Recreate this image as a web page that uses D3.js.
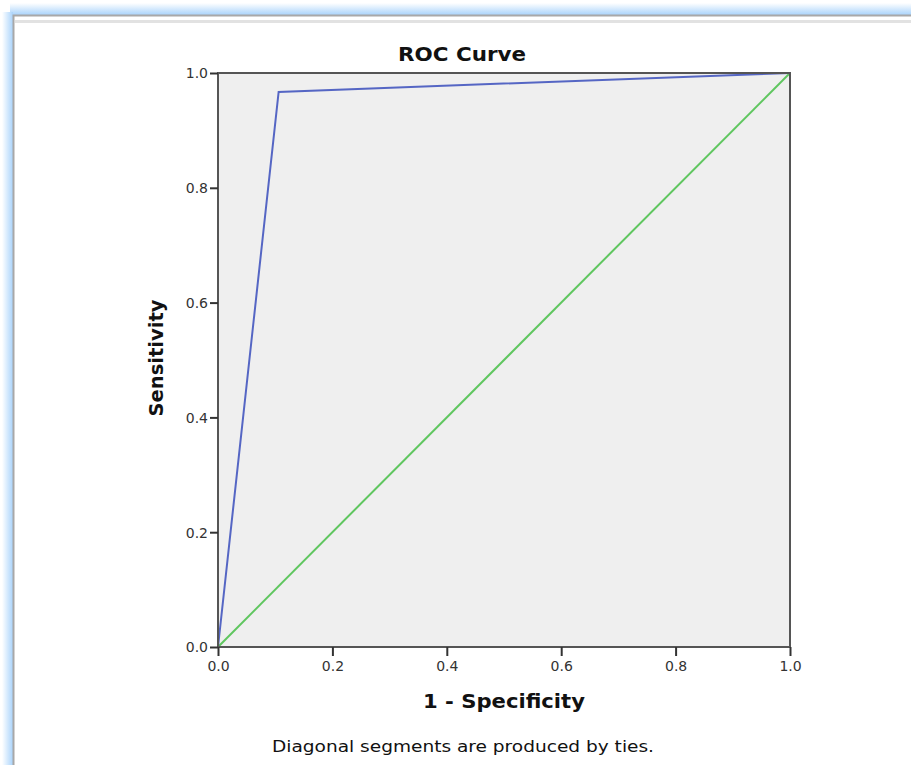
<!DOCTYPE html>
<html>
<head>
<meta charset="utf-8">
<script src="https://cdn.jsdelivr.net/npm/d3@7"></script>
<style>
  body { margin: 0; background: #fff; }
  svg { display: block; }
</style>
</head>
<body>
<div id="chart"></div>
<script>
// ROC curve points: 1 - specificity vs sensitivity
const fpr = [0, 0.106, 1];
const tpr = [0, 0.967, 1];
// reference line
const refX = [0, 1];
const refY = [0, 1];
const ticks = [0, 0.2, 0.4, 0.6, 0.8, 1.0];

const width = 911, height = 765;
const plot = { left: 218, top: 73, right: 790, bottom: 647 };
const font = "'DejaVu Sans', 'Open Sans', sans-serif";

const svg = d3.select("#chart").append("svg")
    .attr("width", width)
    .attr("height", height)
    .style("font-family", font);

// window frame (blue glow on top/left, grey border)
const defs = svg.append("defs");
const glow = defs.append("linearGradient")
    .attr("id", "glowTop").attr("x1", 0).attr("y1", 0).attr("x2", 0).attr("y2", 1);
glow.append("stop").attr("offset", "0%").attr("stop-color", "#fff");
glow.append("stop").attr("offset", "100%").attr("stop-color", "#a9d3fb");
const glowL = defs.append("linearGradient")
    .attr("id", "glowLeft").attr("x1", 0).attr("y1", 0).attr("x2", 1).attr("y2", 0);
glowL.append("stop").attr("offset", "0%").attr("stop-color", "#fff");
glowL.append("stop").attr("offset", "100%").attr("stop-color", "#a9d3fb");

svg.append("rect").attr("x", 10).attr("y", 3).attr("width", width - 10).attr("height", 12)
    .attr("fill", "url(#glowTop)");
svg.append("rect").attr("x", 2).attr("y", 12).attr("width", 11).attr("height", height - 12)
    .attr("fill", "url(#glowLeft)");
svg.append("path")
    .attr("d", `M13.5,${height} V15.5 H${width}`)
    .attr("fill", "none").attr("stroke", "#a8a8a8").attr("stroke-width", 2);
svg.append("line")
    .attr("x1", 15).attr("x2", width).attr("y1", 21.5).attr("y2", 21.5)
    .attr("stroke", "#e2e2e2").attr("stroke-width", 3);

const x = d3.scaleLinear().domain([0, 1]).range([plot.left, plot.right]);
const y = d3.scaleLinear().domain([0, 1]).range([plot.bottom, plot.top]);

// plot background
svg.append("rect")
    .attr("x", x(0)).attr("y", y(1))
    .attr("width", x(1) - x(0)).attr("height", y(0) - y(1))
    .attr("fill", "#efefef");

// reference diagonal
const line = d3.line().x(d => x(d[0])).y(d => y(d[1]));
svg.append("path")
    .datum(d3.zip(refX, refY))
    .attr("d", line)
    .attr("fill", "none")
    .attr("stroke", "#5fc65f")
    .attr("stroke-width", 2);

// ROC curve
svg.append("path")
    .datum(d3.zip(fpr, tpr))
    .attr("d", line)
    .attr("fill", "none")
    .attr("stroke", "#5566c4")
    .attr("stroke-width", 2);

// frame
svg.append("rect")
    .attr("x", x(0)).attr("y", y(1))
    .attr("width", x(1) - x(0)).attr("height", y(0) - y(1))
    .attr("fill", "none")
    .attr("stroke", "#555")
    .attr("stroke-width", 2);

// axes
const xAxis = svg.append("g")
    .attr("transform", `translate(0,${plot.bottom})`)
    .call(d3.axisBottom(x).tickValues(ticks).tickFormat(d3.format(".1f")).tickSize(9).tickPadding(5));
const yAxis = svg.append("g")
    .attr("transform", `translate(${plot.left},0)`)
    .call(d3.axisLeft(y).tickValues(ticks).tickFormat(d3.format(".1f")).tickSize(8).tickPadding(2));

[xAxis, yAxis].forEach(g => {
  g.select(".domain").remove();
  g.selectAll(".tick line").attr("stroke", "#333").attr("stroke-width", 2);
  g.selectAll(".tick text")
      .attr("fill", "#333")
      .style("font-family", font)
      .style("font-size", "14px");
});
yAxis.selectAll(".tick text").attr("dy", "0.35em");

// title and axis labels
svg.append("text")
    .attr("x", 462).attr("y", 61)
    .attr("text-anchor", "middle")
    .attr("font-size", 20).attr("font-weight", "bold").attr("fill", "#111")
    .attr("textLength", 128).attr("lengthAdjust", "spacingAndGlyphs")
    .text("ROC Curve");

svg.append("text")
    .attr("x", 504).attr("y", 708)
    .attr("text-anchor", "middle")
    .attr("font-size", 20).attr("font-weight", "bold").attr("fill", "#111")
    .attr("textLength", 162).attr("lengthAdjust", "spacingAndGlyphs")
    .text("1 - Specificity");

svg.append("text")
    .attr("transform", `translate(163,${(plot.top + plot.bottom) / 2 - 2}) rotate(-90)`)
    .attr("text-anchor", "middle")
    .attr("font-size", 20).attr("font-weight", "bold").attr("fill", "#111")
    .attr("textLength", 117).attr("lengthAdjust", "spacingAndGlyphs")
    .text("Sensitivity");

svg.append("text")
    .attr("x", 463).attr("y", 752)
    .attr("text-anchor", "middle")
    .attr("font-size", 16).attr("fill", "#111")
    .attr("textLength", 382).attr("lengthAdjust", "spacingAndGlyphs")
    .text("Diagonal segments are produced by ties.");
</script>
</body>
</html>
